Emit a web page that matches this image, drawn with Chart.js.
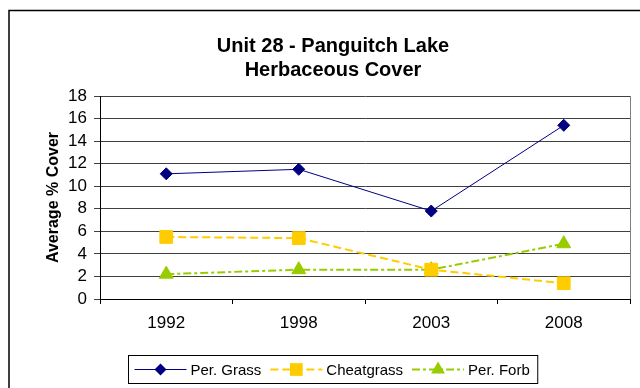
<!DOCTYPE html>
<html lang="en">
    <head>
        <meta charset="utf-8" />
        <script src="https://cdn.jsdelivr.net/npm/chart.js@4/dist/chart.umd.min.js"></script>
        <title>Unit 28 - Panguitch Lake</title>
        <style>
            body { margin: 0; background: #fff; }
        </style>
    </head>
    <body>
        <canvas id="cover" width="640" height="388"></canvas>
        <script>
            var years = ["1992", "1998", "2003", "2008"];
            var perGrass = [11.1, 11.5, 7.8, 15.4];
            var cheatgrass = [5.5, 5.4, 2.6, 1.4];
            var perForb = [2.2, 2.6, 2.6, 4.9];
            var yTicks = [0, 2, 4, 6, 8, 10, 12, 14, 16, 18];

            var FONT = "'Liberation Sans', Arial, sans-serif";

            function marker(ctx, style, x, y, r, color) {
                ctx.save();
                ctx.fillStyle = color;
                ctx.beginPath();
                if (style === "rectRot") {
                    ctx.moveTo(x, y - r); ctx.lineTo(x + r, y); ctx.lineTo(x, y + r); ctx.lineTo(x - r, y);
                } else if (style === "rect") {
                    var s = r * Math.SQRT1_2;
                    ctx.rect(x - s, y - s, 2 * s, 2 * s);
                } else {
                    ctx.moveTo(x, y - r);
                    ctx.lineTo(x + r * 0.866, y + r / 2);
                    ctx.lineTo(x - r * 0.866, y + r / 2);
                }
                ctx.closePath();
                ctx.fill();
                ctx.restore();
            }

            // outer frame, plot border and the boxed legend under the axis
            var frame = {
                id: "frame",
                beforeDraw(chart) {
                    var ctx = chart.ctx;
                    ctx.save();
                    ctx.fillStyle = "#fff";
                    ctx.fillRect(0, 0, chart.width, chart.height);
                    ctx.strokeStyle = "#000";
                    ctx.lineWidth = 1.5;
                    ctx.strokeRect(9, 10.5, 700, 500);
                    ctx.restore();
                },
                afterDraw(chart) {
                    var ctx = chart.ctx, a = chart.chartArea;
                    ctx.save();
                    ctx.strokeStyle = "#808080";
                    ctx.lineWidth = 1;
                    ctx.beginPath();
                    ctx.moveTo(Math.round(a.right) + 0.5, a.top);
                    ctx.lineTo(Math.round(a.right) + 0.5, a.bottom);
                    ctx.stroke();

                    ctx.font = "15px " + FONT;
                    var items = chart.data.datasets.map(function (d) {
                        return { d: d, w: ctx.measureText(d.label).width };
                    });
                    var total = 6 + 8;
                    items.forEach(function (it, i) { total += 56 + it.w + (i < items.length - 1 ? 9 : 0); });
                    var cx = (chart.options.layout.padding.left + chart.width - chart.options.layout.padding.right) / 2;
                    var bx = Math.round(cx - total / 2) + 0.5, by = 355.5, bh = 28;
                    ctx.strokeStyle = "#000";
                    ctx.strokeRect(bx, by, total, bh);
                    var x = bx + 6, y = by + bh / 2;
                    ctx.textBaseline = "middle";
                    ctx.fillStyle = "#000";
                    items.forEach(function (it) {
                        var d = it.d;
                        ctx.strokeStyle = d.borderColor;
                        ctx.lineWidth = d.borderWidth;
                        ctx.setLineDash(d.borderDash || []);
                        ctx.beginPath();
                        ctx.moveTo(x, y);
                        ctx.lineTo(x + 52, y);
                        ctx.stroke();
                        ctx.setLineDash([]);
                        marker(ctx, d.pointStyle, x + 26, y, d.pointRadius, d.pointBackgroundColor);
                        ctx.fillStyle = "#000";
                        ctx.fillText(d.label, x + 56, y + 1);
                        x += 56 + it.w + 9;
                    });
                    ctx.restore();
                }
            };

            new Chart(document.getElementById("cover").getContext("2d"), {
                type: "line",
                data: {
                    labels: years,
                    datasets: [
                        {
                            label: "Per. Grass",
                            data: perGrass,
                            borderColor: "#000080",
                            borderWidth: 1,
                            pointStyle: "rectRot",
                            pointRadius: 6,
                            pointBackgroundColor: "#000080",
                            pointBorderColor: "#000080",
                            pointBorderWidth: 1,
                        },
                        {
                            label: "Cheatgrass",
                            data: cheatgrass,
                            borderColor: "#FFCC00",
                            borderWidth: 2,
                            borderDash: [8, 4],
                            pointStyle: "rect",
                            pointRadius: 9,
                            pointBackgroundColor: "#FFCC00",
                            pointBorderColor: "#FFCC00",
                            pointBorderWidth: 1,
                        },
                        {
                            label: "Per. Forb",
                            data: perForb,
                            borderColor: "#99CC00",
                            borderWidth: 2,
                            borderDash: [8, 3, 3, 3],
                            pointStyle: "triangle",
                            pointRadius: 8,
                            pointBackgroundColor: "#99CC00",
                            pointBorderColor: "#99CC00",
                            pointBorderWidth: 1,
                        },
                    ],
                },
                plugins: [frame],
                options: {
                    responsive: false,
                    animation: false,
                    layout: { padding: { left: 31, right: 5, top: 10, bottom: 49 } },
                    scales: {
                        x: {
                            offset: true,
                            afterFit: function (s) { s.height = 40; },
                            grid: { offset: true, drawOnChartArea: false, tickLength: 5, color: "#000" },
                            border: { color: "#000" },
                            ticks: { padding: 9, color: "#000", font: { family: FONT, size: 17 } },
                        },
                        y: {
                            min: 0,
                            max: 18,
                            afterFit: function (s) { s.width = 69; },
                            afterBuildTicks: function (s) { s.ticks = yTicks.map(function (v) { return { value: v }; }); },
                            grid: { color: "#404040", tickLength: 6 },
                            border: { color: "#000" },
                            ticks: { autoSkip: false, padding: 7, color: "#000", font: { family: FONT, size: 17 } },
                            title: {
                                display: true,
                                text: "Average % Cover",
                                color: "#000",
                                padding: { top: 13, bottom: 0 },
                                font: { family: FONT, size: 16, weight: "bold" },
                            },
                        },
                    },
                    plugins: {
                        legend: { display: false },
                        tooltip: { enabled: false },
                        title: {
                            display: true,
                            text: ["Unit 28 - Panguitch Lake", "Herbaceous Cover"],
                            color: "#000",
                            padding: { top: 24, bottom: 14 },
                            font: { family: FONT, size: 20, weight: "bold", lineHeight: 1.2 },
                        },
                    },
                },
            });
        </script>
    </body>
</html>
